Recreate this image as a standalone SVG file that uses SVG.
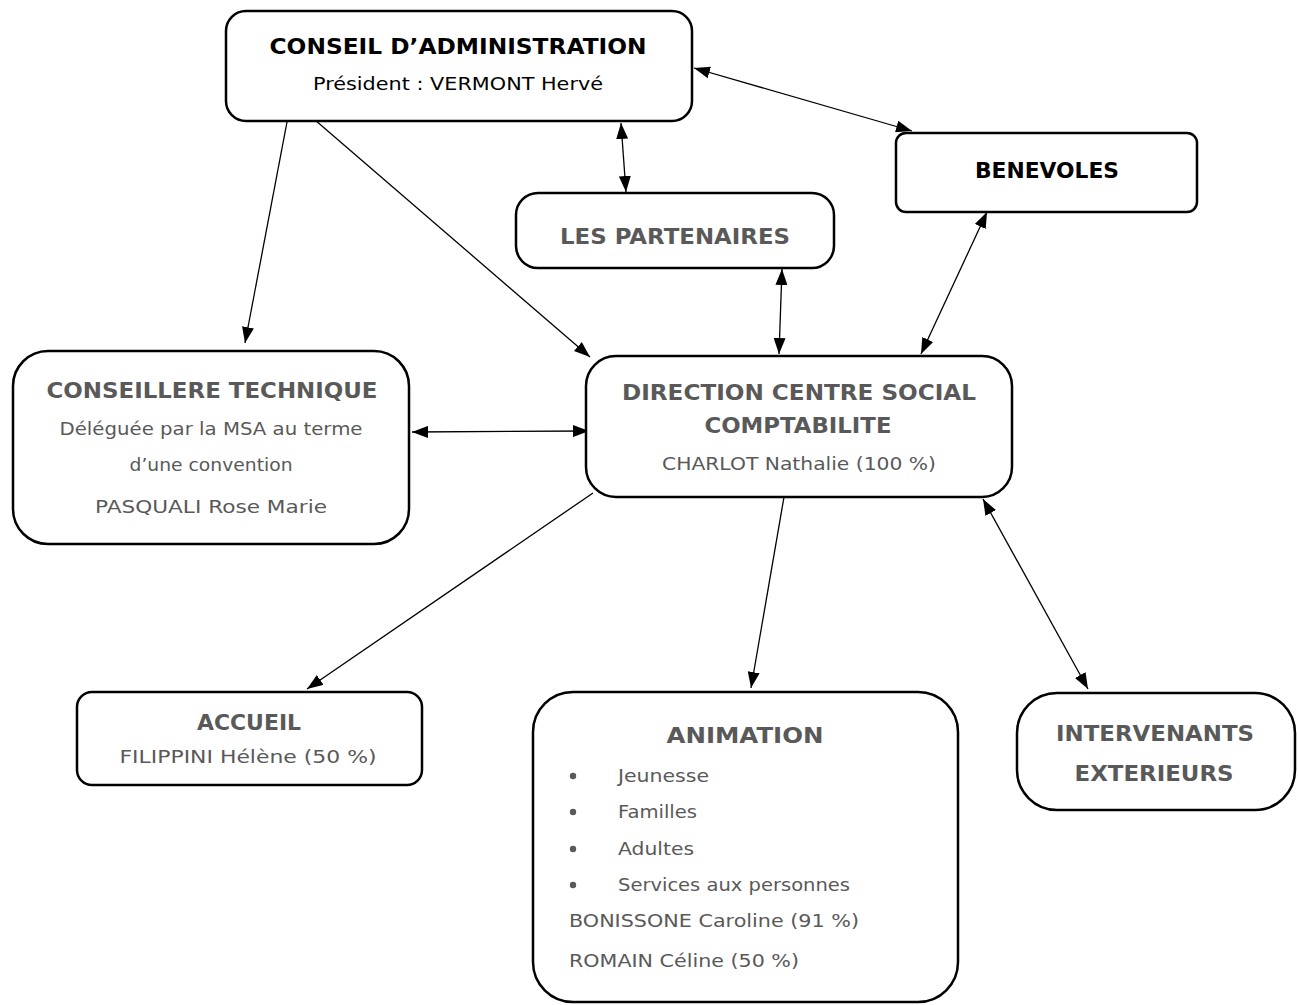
<svg xmlns="http://www.w3.org/2000/svg" width="1298" height="1005" viewBox="0 0 1298 1005">
<defs>
<marker id="ah" viewBox="0 0 16 12" refX="16" refY="6" markerWidth="16" markerHeight="12" markerUnits="userSpaceOnUse" orient="auto-start-reverse">
<path d="M0,0 L16,6 L0,12 z" fill="#000"/>
</marker>
<style>
.box{fill:#fff;stroke:#000;stroke-width:2.5}
.t{font-family:"DejaVu Sans","Liberation Sans",sans-serif;text-anchor:middle;fill:#595959}
.b{font-weight:bold}
.k{fill:#000}
.l{text-anchor:start}
.c{stroke:#000;stroke-width:1.3;fill:none}
</style>
</defs>
<rect width="1298" height="1005" fill="#fff"/>
<g id="connectors">
<line class="c" x1="287" y1="122" x2="245" y2="343" marker-end="url(#ah)"/>
<line class="c" x1="315" y1="120" x2="590" y2="357" marker-end="url(#ah)"/>
<line class="c" x1="694" y1="68" x2="912" y2="131" marker-start="url(#ah)" marker-end="url(#ah)"/>
<line class="c" x1="621" y1="123" x2="626" y2="192" marker-start="url(#ah)" marker-end="url(#ah)"/>
<line class="c" x1="782" y1="269" x2="779" y2="354" marker-start="url(#ah)" marker-end="url(#ah)"/>
<line class="c" x1="987" y1="212" x2="921" y2="354" marker-start="url(#ah)" marker-end="url(#ah)"/>
<line class="c" x1="412" y1="432" x2="589" y2="431" marker-start="url(#ah)" marker-end="url(#ah)"/>
<line class="c" x1="983" y1="499" x2="1088" y2="689" marker-start="url(#ah)" marker-end="url(#ah)"/>
<line class="c" x1="593" y1="493" x2="307" y2="689" marker-end="url(#ah)"/>
<line class="c" x1="784" y1="497" x2="751" y2="688" marker-end="url(#ah)"/>
</g>
<g id="conseil">
<rect class="box" x="226" y="11" width="466" height="110" rx="20"/>
<text class="t b k" x="458" y="54" font-size="22" textLength="377" lengthAdjust="spacingAndGlyphs">CONSEIL D’ADMINISTRATION</text>
<text class="t k" x="458" y="90" font-size="18.5" textLength="290" lengthAdjust="spacingAndGlyphs">Président : VERMONT Hervé</text>
</g>
<g id="benevoles">
<rect class="box" x="896" y="133" width="301" height="79" rx="10"/>
<text class="t b k" x="1047" y="178" font-size="22" textLength="144" lengthAdjust="spacingAndGlyphs">BENEVOLES</text>
</g>
<g id="partenaires">
<rect class="box" x="516" y="193" width="318" height="75" rx="22"/>
<text class="t b" x="675" y="244" font-size="22" textLength="230" lengthAdjust="spacingAndGlyphs">LES PARTENAIRES</text>
</g>
<g id="conseillere">
<rect class="box" x="13" y="351" width="396" height="193" rx="35"/>
<text class="t b" x="212" y="398" font-size="22" textLength="331" lengthAdjust="spacingAndGlyphs">CONSEILLERE TECHNIQUE</text>
<text class="t" x="211" y="435" font-size="18.5" textLength="303" lengthAdjust="spacingAndGlyphs">Déléguée par la MSA au terme</text>
<text class="t" x="211" y="471" font-size="18.5" textLength="163" lengthAdjust="spacingAndGlyphs">d’une convention</text>
<text class="t" x="211" y="513" font-size="18.5" textLength="232" lengthAdjust="spacingAndGlyphs">PASQUALI Rose Marie</text>
</g>
<g id="direction">
<rect class="box" x="586" y="356" width="426" height="141" rx="30"/>
<text class="t b" x="799" y="400" font-size="22" textLength="354" lengthAdjust="spacingAndGlyphs">DIRECTION CENTRE SOCIAL</text>
<text class="t b" x="798" y="433" font-size="22" textLength="187" lengthAdjust="spacingAndGlyphs">COMPTABILITE</text>
<text class="t" x="799" y="470" font-size="18.5" textLength="274" lengthAdjust="spacingAndGlyphs">CHARLOT Nathalie (100 %)</text>
</g>
<g id="accueil">
<rect class="box" x="77" y="692" width="345" height="93" rx="15"/>
<text class="t b" x="249" y="730" font-size="22" textLength="104" lengthAdjust="spacingAndGlyphs">ACCUEIL</text>
<text class="t" x="248" y="763" font-size="18.5" textLength="257" lengthAdjust="spacingAndGlyphs">FILIPPINI Hélène (50 %)</text>
</g>
<g id="animation">
<rect class="box" x="533" y="692" width="425" height="310" rx="40"/>
<text class="t b" x="745" y="743" font-size="22" textLength="157" lengthAdjust="spacingAndGlyphs">ANIMATION</text>
<circle cx="573" cy="776" r="3.2" fill="#595959"/>
<circle cx="573" cy="812" r="3.2" fill="#595959"/>
<circle cx="573" cy="849" r="3.2" fill="#595959"/>
<circle cx="573" cy="885" r="3.2" fill="#595959"/>
<text class="t l" x="618" y="782" font-size="18.5" textLength="91" lengthAdjust="spacingAndGlyphs">Jeunesse</text>
<text class="t l" x="618" y="818" font-size="18.5" textLength="79" lengthAdjust="spacingAndGlyphs">Familles</text>
<text class="t l" x="618" y="855" font-size="18.5" textLength="76" lengthAdjust="spacingAndGlyphs">Adultes</text>
<text class="t l" x="618" y="891" font-size="18.5" textLength="232" lengthAdjust="spacingAndGlyphs">Services aux personnes</text>
<text class="t l" x="569" y="927" font-size="18.5" textLength="290" lengthAdjust="spacingAndGlyphs">BONISSONE Caroline (91 %)</text>
<text class="t l" x="569" y="967" font-size="18.5" textLength="230" lengthAdjust="spacingAndGlyphs">ROMAIN Céline (50 %)</text>
</g>
<g id="intervenants">
<rect class="box" x="1017" y="693" width="278" height="117" rx="40"/>
<text class="t b" x="1155" y="741" font-size="22" textLength="198" lengthAdjust="spacingAndGlyphs">INTERVENANTS</text>
<text class="t b" x="1154" y="781" font-size="22" textLength="159" lengthAdjust="spacingAndGlyphs">EXTERIEURS</text>
</g>
</svg>
